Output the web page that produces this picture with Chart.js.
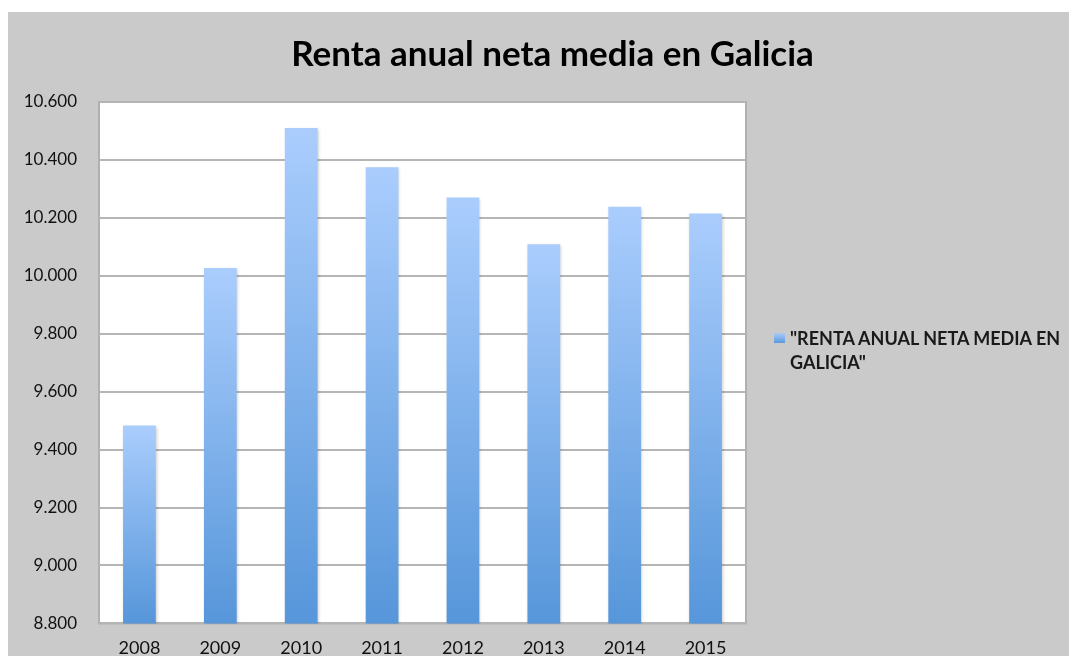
<!DOCTYPE html>
<html lang="es">
<head>
<meta charset="utf-8">
<title>Renta anual neta media en Galicia</title>
<script src="https://cdn.jsdelivr.net/npm/chart.js@4.4.1/dist/chart.umd.min.js"></script>
<style>
    html, body { margin: 0; padding: 0; background: #fff; overflow: hidden; }
    #marco {
        position: absolute; left: 8px; top: 12px;
        width: 1061px; height: 644px;
        background: #cacaca; overflow: hidden;
    }
    /* el lienzo es algo más ancho y alto que el marco: el título queda
       centrado como en el original y las etiquetas del eje X se cortan abajo */
    #lienzo { position: absolute; left: 0; top: 0; width: 1089px; height: 661px; }
    #leyenda {
        position: absolute; left: 766px; top: 314px; width: 292px;
        font-family: Lato, "Open Sans", sans-serif; font-weight: bold;
        font-size: 18px; line-height: 24px; color: #1a1a1a;
    }
    #leyenda .caja {
        position: absolute; left: 0; top: 7px; width: 11px; height: 10px;
        background: linear-gradient(#a9cbfa, #5b9bdc);
    }
    #leyenda .texto { margin-left: 16px; }
</style>
</head>
<body>
<div id="marco">
    <div id="lienzo"><canvas id="chartRenta"></canvas></div>
    <div id="leyenda"><span class="caja"></span><div class="texto"></div></div>
</div>
<script>
// Datos
const anios = ['2008', '2009', '2010', '2011', '2012', '2013', '2014', '2015'];
const rentaMedia = [9483, 10027, 10510, 10375, 10270, 10109, 10238, 10215];
const marcasY = [8800, 9000, 9200, 9400, 9600, 9800, 10000, 10200, 10400, 10600];
const nombreSerie = '"RENTA ANUAL NETA MEDIA EN GALICIA"';
const tituloGrafico = 'Renta anual neta media en Galicia';

const colores = {
    barraClara: '#aacdfd',
    barraOscura: '#5696da',
    rejilla: '#b5b5b5',
    texto: '#111111'
};

// Separador de miles con punto: 10600 -> "10.600"
function formatoMiles(v) {
    return String(v).replace(/\B(?=(\d{3})+(?!\d))/g, '.');
}

// Degradado por barra, de claro (arriba) a oscuro (abajo)
function degradadoBarra(context) {
    const chart = context.chart;
    const area = chart.chartArea;
    if (!area) return colores.barraOscura;
    const y = chart.scales.y.getPixelForValue(context.raw);
    const g = chart.ctx.createLinearGradient(0, y, 0, area.bottom);
    g.addColorStop(0, colores.barraClara);
    g.addColorStop(1, colores.barraOscura);
    return g;
}

// Fondo blanco del área de trazado y sombra suave de las barras
const areaBlanca = {
    id: 'areaBlanca',
    beforeDraw(chart) {
        const { ctx, chartArea: a } = chart;
        ctx.save();
        ctx.fillStyle = '#ffffff';
        ctx.fillRect(a.left, a.top, a.right - a.left, a.bottom - a.top);
        ctx.strokeStyle = '#b0b0b0';
        ctx.lineWidth = 2;
        ctx.strokeRect(a.left, a.top, a.right - a.left, a.bottom - a.top);
        ctx.restore();
    },
    beforeDatasetsDraw(chart) {
        const ctx = chart.ctx;
        ctx.save();
        ctx.shadowColor = 'rgba(0, 0, 0, 0.22)';
        ctx.shadowBlur = 3;
        ctx.shadowOffsetX = 1;
        ctx.shadowOffsetY = 1;
    },
    afterDatasetsDraw(chart) {
        chart.ctx.restore();
    }
};

document.addEventListener('DOMContentLoaded', function() {
    const ctx = document.getElementById('chartRenta').getContext('2d');

    new Chart(ctx, {
        type: 'bar',
        data: {
            labels: anios,
            datasets: [{
                label: nombreSerie,
                data: rentaMedia,
                backgroundColor: degradadoBarra,
                borderWidth: 0,
                barPercentage: 0.405,
                categoryPercentage: 1
            }]
        },
        options: {
            responsive: true,
            maintainAspectRatio: false,
            animation: false,
            layout: { padding: 0 },
            plugins: {
                legend: { display: false },
                tooltip: { enabled: false },
                title: {
                    display: true,
                    text: tituloGrafico,
                    color: '#000',
                    font: { family: 'Lato, "Open Sans", sans-serif', size: 35, weight: 'bold' },
                    padding: { top: 22, bottom: 26 }
                }
            },
            scales: {
                x: {
                    grid: { display: false, drawTicks: false },
                    border: { display: false },
                    ticks: {
                        color: colores.texto,
                        padding: 14,
                        maxRotation: 0,
                        font: { family: 'Lato, "Open Sans", sans-serif', size: 18 }
                    }
                },
                y: {
                    min: marcasY[0],
                    max: marcasY[marcasY.length - 1],
                    afterBuildTicks: function(scale) {
                        scale.ticks = marcasY.map(v => ({ value: v }));
                    },
                    afterFit: function(scale) { scale.width = 91; },
                    grid: { color: colores.rejilla, lineWidth: 2, drawTicks: false },
                    border: { display: false },
                    ticks: {
                        color: colores.texto,
                        padding: 22,
                        font: { family: 'Lato, "Open Sans", sans-serif', size: 17 },
                        callback: function(value) { return formatoMiles(value); }
                    }
                },
                // eje vacío que reserva el hueco de la leyenda a la derecha
                hueco: {
                    type: 'linear',
                    position: 'right',
                    display: true,
                    grid: { display: false },
                    border: { display: false },
                    ticks: { display: false },
                    afterFit: function(scale) { scale.width = 351; }
                }
            }
        },
        plugins: [areaBlanca]
    });

    document.querySelector('#leyenda .texto').textContent = nombreSerie;
});
</script>
</body>
</html>
